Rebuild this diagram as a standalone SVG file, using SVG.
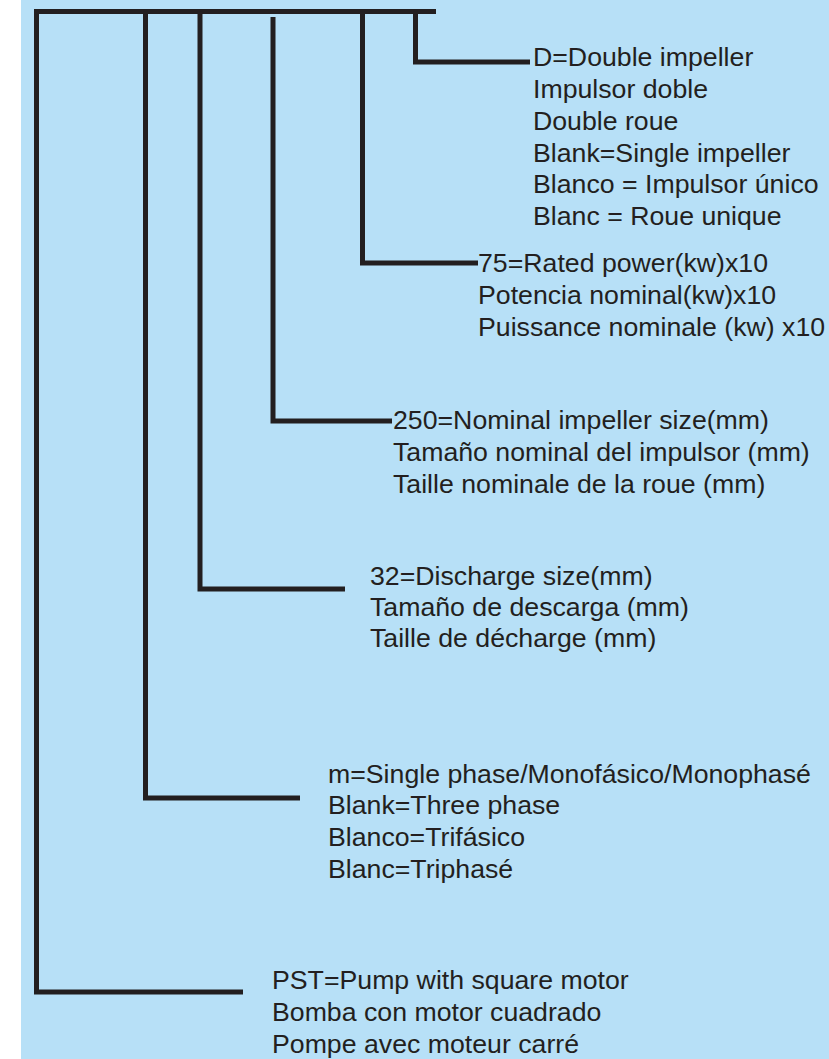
<svg xmlns="http://www.w3.org/2000/svg" width="829" height="1059" viewBox="0 0 829 1059">
<style>
.ln{fill:none;stroke:#231f20;stroke-width:5;stroke-linecap:butt;stroke-linejoin:miter}
text{font-family:"Liberation Sans",Arial,sans-serif;font-size:26.7px;fill:#231f20}
</style>
<rect x="0" y="0" width="829" height="1059" fill="#ffffff"/>
<rect x="21" y="0" width="808" height="1059" fill="#b7e0f7"/>
<g id="connectors">
<polyline class="ln" points="436,11.5 36.5,11.5 36.5,992 243,992"/>
<polyline class="ln" points="145.5,11.5 145.5,798 300,798"/>
<polyline class="ln" points="200,11.5 200,589 345,589"/>
<polyline class="ln" points="273,17 273,421 392,421"/>
<polyline class="ln" points="362.5,11.5 362.5,263 478,263"/>
<polyline class="ln" points="415.5,11.5 415.5,62 530,62"/>
</g>
<g id="node-impeller">
<text x="533" y="66">D=Double impeller</text>
<text x="533" y="98">Impulsor doble</text>
<text x="533" y="130">Double roue</text>
<text x="533" y="162">Blank=Single impeller</text>
<text x="533" y="193">Blanco = Impulsor único</text>
<text x="533" y="225">Blanc = Roue unique</text>
</g>
<g id="node-power">
<text x="478" y="272">75=Rated power(kw)x10</text>
<text x="478" y="304">Potencia nominal(kw)x10</text>
<text x="478" y="336">Puissance nominale (kw) x10</text>
</g>
<g id="node-impeller-size">
<text x="393" y="429">250=Nominal impeller size(mm)</text>
<text x="393" y="461">Tamaño nominal del impulsor (mm)</text>
<text x="393" y="493">Taille nominale de la roue (mm)</text>
</g>
<g id="node-discharge">
<text x="370" y="585">32=Discharge size(mm)</text>
<text x="370" y="616">Tamaño de descarga (mm)</text>
<text x="370" y="647">Taille de décharge (mm)</text>
</g>
<g id="node-phase">
<text x="328" y="783">m=Single phase/Monofásico/Monophasé</text>
<text x="328" y="814">Blank=Three phase</text>
<text x="328" y="846">Blanco=Trifásico</text>
<text x="328" y="878">Blanc=Triphasé</text>
</g>
<g id="node-pst">
<text x="272" y="989">PST=Pump with square motor</text>
<text x="272" y="1021">Bomba con motor cuadrado</text>
<text x="272" y="1053">Pompe avec moteur carré</text>
</g>
</svg>
